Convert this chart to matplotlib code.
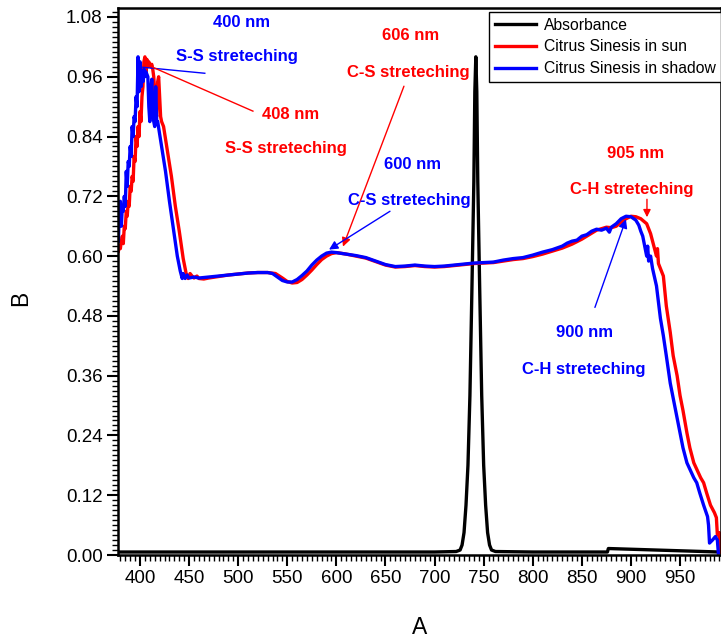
import numpy as np
import matplotlib
matplotlib.use("Agg")
from matplotlib import pyplot as plt
from matplotlib.ticker import MultipleLocator

plt.rcParams['font.family'] = ['Liberation Sans', 'DejaVu Sans']

# absorbance (black)
abs_x = [378, 700, 722, 726, 728, 730, 732, 734, 736, 738, 740, 741, 742, 743, 744, 746, 748,
         750, 752, 754, 756, 758, 762, 800, 876, 877, 990]
abs_y = [0.006, 0.006, 0.007, 0.010, 0.020, 0.045, 0.10, 0.18, 0.32, 0.53, 0.75, 0.93, 1.0,
         0.93, 0.75, 0.53, 0.32, 0.18, 0.10, 0.045, 0.020, 0.010, 0.007, 0.006, 0.006, 0.013, 0.006]

# Citrus Sinesis in sun (red)
sun_x = [378, 379, 380, 381, 382, 383, 384, 385, 386, 387, 388, 389, 390, 391, 392, 393, 394,
         395, 396, 397, 398, 399, 400, 401, 402, 403, 404, 405, 406, 407, 408, 409, 410, 411,
         412, 413, 414, 415, 416, 417, 418, 419, 420, 421, 422, 424, 428, 432, 436, 440, 444,
         447, 449, 451, 453, 455, 458, 460, 465, 470, 480, 490, 500, 510, 520, 530, 538, 545,
         550, 555, 560, 565, 570, 575, 580, 585, 590, 595, 600, 610, 620, 630, 640, 650, 660,
         670, 680, 690, 700, 710, 720, 730, 740, 750, 760, 770, 780, 790, 800, 810, 820, 830,
         840, 850, 855, 860, 865, 870, 875, 880, 885, 890, 895, 900, 905, 910, 913, 916, 918,
         920, 922, 924, 926, 927, 928, 930, 933, 936, 940, 943, 947, 950, 953, 957, 960, 964,
         967, 971, 974, 977, 981, 985, 987, 988, 990, 991]
sun_y = [0.61, 0.62, 0.615, 0.63, 0.64, 0.625, 0.66, 0.655, 0.69, 0.68, 0.71, 0.70, 0.74,
         0.73, 0.76, 0.75, 0.80, 0.79, 0.84, 0.82, 0.86, 0.84, 0.89, 0.87, 0.92, 0.94, 0.99,
         1.00, 0.97, 0.995, 0.98, 0.99, 0.985, 0.98, 0.985, 0.975, 0.96, 0.93, 0.89, 0.88, 0.95,
         0.96, 0.92, 0.88, 0.87, 0.86, 0.81, 0.76, 0.70, 0.65, 0.595, 0.565, 0.555, 0.565, 0.56,
         0.556, 0.560, 0.555, 0.554, 0.556, 0.559, 0.562, 0.564, 0.566, 0.567, 0.567, 0.565,
         0.556, 0.549, 0.546, 0.547, 0.553, 0.562, 0.572, 0.583, 0.593, 0.600, 0.605, 0.607,
         0.604, 0.600, 0.596, 0.589, 0.582, 0.578, 0.579, 0.581, 0.579, 0.578, 0.579, 0.581,
         0.583, 0.585, 0.586, 0.587, 0.590, 0.593, 0.595, 0.599, 0.604, 0.610, 0.616, 0.624,
         0.634, 0.640, 0.646, 0.652, 0.655, 0.658, 0.657, 0.660, 0.668, 0.675, 0.680, 0.679,
         0.675, 0.670, 0.665, 0.655, 0.645, 0.630, 0.615, 0.600, 0.615, 0.585, 0.575, 0.560,
         0.500, 0.447, 0.400, 0.360, 0.320, 0.290, 0.245, 0.215, 0.185, 0.172, 0.155, 0.145,
         0.125, 0.100, 0.085, 0.075, 0.040, 0.045, 0.005]

# Citrus Sinesis in shadow (blue)
shade_x = [378, 379, 380, 381, 382, 383, 384, 385, 386, 387, 388, 389, 390, 391, 392, 393, 394,
           395, 396, 397, 398, 399, 400, 401, 402, 403, 404, 405, 406, 408, 409, 410, 411, 412,
           413, 414, 415, 416, 417, 418, 422, 426, 430, 434, 438, 441, 443, 444, 446, 448, 450,
           455, 460, 470, 480, 490, 500, 510, 520, 530, 535, 540, 545, 550, 555, 560, 565, 570,
           575, 580, 585, 590, 595, 600, 610, 620, 630, 640, 650, 660, 670, 680, 690, 700, 710,
           720, 730, 740, 750, 760, 770, 780, 790, 800, 810, 820, 830, 835, 840, 845, 850, 855,
           860, 865, 870, 875, 878, 880, 885, 890, 895, 900, 905, 908, 910, 912, 914, 916, 917,
           918, 920, 922, 926, 930, 933, 936, 940, 943, 946, 950, 953, 957, 960, 964, 967, 970,
           974, 978, 979, 980, 983, 986, 988, 989]
shade_y = [0.63, 0.69, 0.71, 0.66, 0.70, 0.69, 0.72, 0.70, 0.77, 0.74, 0.79, 0.78, 0.82,
           0.80, 0.86, 0.84, 0.88, 0.87, 0.92, 0.90, 1.00, 0.93, 0.99, 0.94, 0.97, 0.95, 0.975,
           0.96, 0.97, 0.96, 0.90, 0.87, 0.93, 0.955, 0.90, 0.87, 0.86, 0.94, 0.87, 0.87, 0.82,
           0.77, 0.71, 0.655, 0.60, 0.57, 0.555, 0.565, 0.555, 0.562, 0.556, 0.558, 0.556, 0.558,
           0.560, 0.562, 0.564, 0.566, 0.567, 0.567, 0.565, 0.558, 0.551, 0.548, 0.548, 0.553,
           0.561, 0.570, 0.582, 0.592, 0.600, 0.606, 0.608, 0.607, 0.604, 0.601, 0.597, 0.590,
           0.583, 0.579, 0.580, 0.582, 0.580, 0.579, 0.580, 0.582, 0.584, 0.586, 0.587, 0.588,
           0.592, 0.595, 0.597, 0.602, 0.608, 0.613, 0.620, 0.626, 0.630, 0.632, 0.640, 0.643,
           0.650, 0.654, 0.652, 0.656, 0.648, 0.658, 0.665, 0.675, 0.680, 0.679, 0.672, 0.662,
           0.650, 0.640, 0.620, 0.600, 0.620, 0.590, 0.600, 0.575, 0.540, 0.475, 0.440, 0.400,
           0.345, 0.315, 0.285, 0.245, 0.215, 0.185, 0.172, 0.155, 0.145, 0.125, 0.100, 0.077,
           0.060, 0.024, 0.030, 0.037, 0.030, 0.004]

fig = plt.figure(figsize=(7.21, 6.39), dpi=100)
ax = fig.add_axes([118 / 721, 84 / 639, 603 / 721, 547 / 639])

ax.plot(abs_x, abs_y, color='black', lw=2.4, label='Absorbance')
ax.plot(sun_x, sun_y, color='#ff0000', lw=2.4, label='Citrus Sinesis in sun')
ax.plot(shade_x, shade_y, color='#0000ff', lw=2.4, label='Citrus Sinesis in shadow')

ax.set_xlim(377.6, 991.7)
ax.set_ylim(0, 1.098)
ax.xaxis.set_major_locator(MultipleLocator(50))
ax.xaxis.set_minor_locator(MultipleLocator(5))
ax.yaxis.set_major_locator(MultipleLocator(0.12))
ax.yaxis.set_minor_locator(MultipleLocator(0.01))
ax.yaxis.set_major_formatter(matplotlib.ticker.FormatStrFormatter('%.2f'))
ax.tick_params(which='major', direction='out', length=8, width=1.5, labelsize=13.5, pad=3)
ax.tick_params(which='minor', direction='out', length=4, width=1)
for s in ax.spines.values():
    s.set_linewidth(1.8)

ax.set_xlabel('A', fontsize=16.5)
ax.set_ylabel('B', fontsize=16.5)
ax.xaxis.set_label_coords(0.5, -0.112)
ax.yaxis.set_label_coords(-0.143, 0.47)

leg = ax.legend(loc='upper right', bbox_to_anchor=(1.0, 0.992), borderaxespad=0,
                fontsize=11.3, handlelength=2.6, handletextpad=0.5, labelspacing=0.42,
                borderpad=0.35, fancybox=False, framealpha=1, edgecolor='black')
leg.get_frame().set_linewidth(1)

# annotations
tkw = dict(fontsize=12, fontweight='bold', ha='center', va='center')
ax.text(503, 1.068, '400 nm', color='#0000ff', **tkw)
ax.text(499, 1.000, 'S-S streteching', color='#0000ff', **tkw)
ax.plot([466, 403], [0.967, 0.979], color='#0000ff', lw=1)

ax.text(553, 0.885, '408 nm', color='#ff0000', **tkw)
ax.text(549, 0.815, 'S-S streteching', color='#ff0000', **tkw)
ax.plot([515, 413], [0.891, 0.979], color='#ff0000', lw=1)

ax.text(676, 1.042, '606 nm', color='#ff0000', **tkw)
ax.text(673, 0.969, 'C-S streteching', color='#ff0000', **tkw)
ax.annotate('', xy=(606.7, 0.619), xytext=(668.8, 0.941),
            arrowprops=dict(arrowstyle='-|>', color='#ff0000', lw=1, mutation_scale=13,
                            shrinkA=0, shrinkB=0))

ax.text(678, 0.784, '600 nm', color='#0000ff', **tkw)
ax.text(674, 0.712, 'C-S streteching', color='#0000ff', **tkw)
ax.annotate('', xy=(592.5, 0.613), xytext=(654.6, 0.690),
            arrowprops=dict(arrowstyle='-|>', color='#0000ff', lw=1, mutation_scale=13,
                            shrinkA=0, shrinkB=0))

ax.text(905, 0.805, '905 nm', color='#ff0000', **tkw)
ax.text(901, 0.734, 'C-H streteching', color='#ff0000', **tkw)
ax.annotate('', xy=(916.3, 0.678), xytext=(916.3, 0.714),
            arrowprops=dict(arrowstyle='-|>', color='#ff0000', lw=1, mutation_scale=11,
                            shrinkA=0, shrinkB=0))

ax.text(853, 0.4465, '900 nm', color='#0000ff', **tkw)
ax.text(852, 0.372, 'C-H streteching', color='#0000ff', **tkw)
ax.annotate('', xy=(894.9, 0.674), xytext=(863.3, 0.497),
            arrowprops=dict(arrowstyle='-|>', color='#0000ff', lw=1, mutation_scale=13,
                            shrinkA=0, shrinkB=0))

fig.savefig('out.png', dpi=100)
